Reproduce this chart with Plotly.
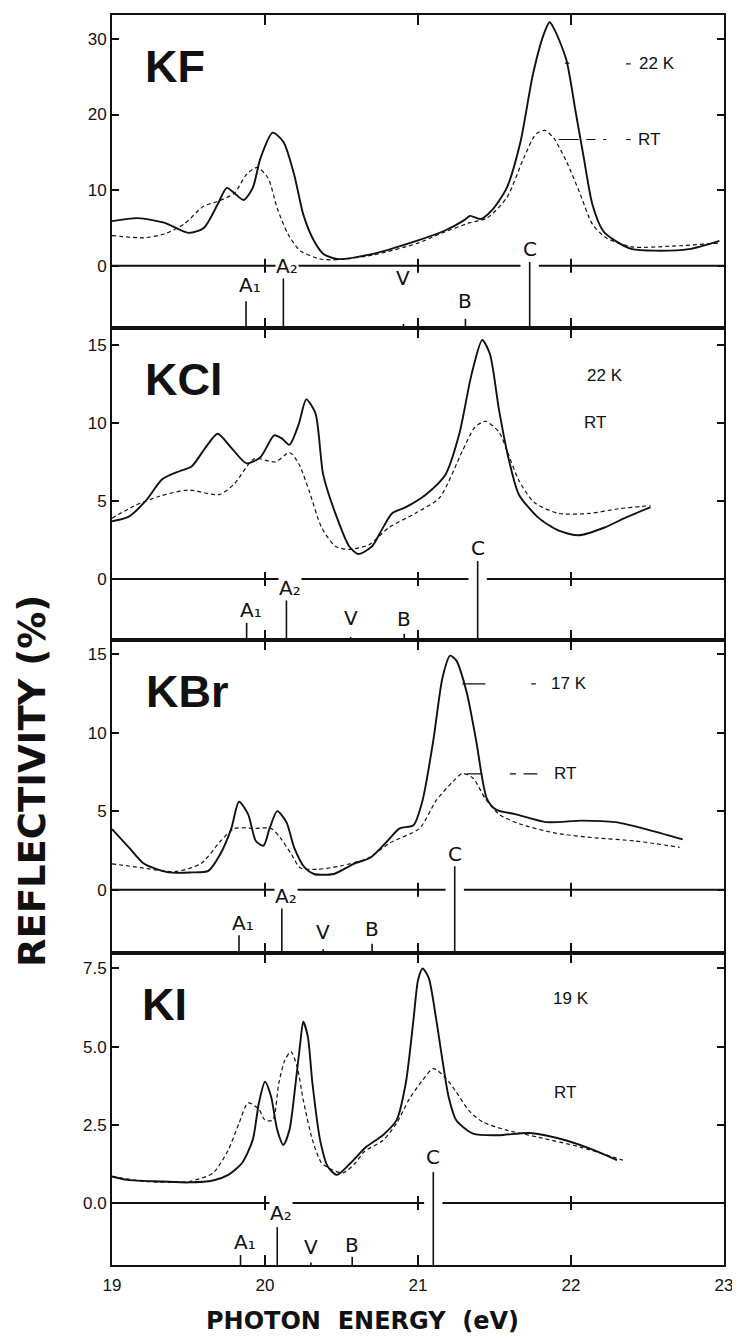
import plotly.graph_objects as go
from plotly.subplots import make_subplots

# ---------------- data ----------------
panel_names = ["KF", "KCl", "KBr", "KI"]
cold_labels = ["22 K", "22 K", "17 K", "19 K"]
rt_label = "RT"

energy_range = [19, 23]
x_tick_vals = [19, 20, 21, 22, 23]
x_tick_text = ["19", "20", "21", "22", "23"]

y_ranges = [[-8.16, 33.16], [-3.9, 16.1], [-4.0, 15.9], [-1.98, 8.01]]
y_tick_vals = [[0, 10, 20, 30], [0, 5, 10, 15], [0, 5, 10, 15], [0, 2.5, 5.0, 7.5]]
y_tick_text = [["0", "10", "20", "30"], ["0", "5", "10", "15"], ["0", "5", "10", "15"],
               ["0.0", "2.5", "5.0", "7.5"]]

# KF
kf_cold_e = [19.0, 19.17, 19.34, 19.50, 19.60, 19.69, 19.75, 19.80, 19.86, 19.92, 19.97, 20.05, 20.12,
             20.19, 20.25, 20.32, 20.38, 20.47, 20.69, 20.99, 21.17, 21.30, 21.34, 21.41, 21.49, 21.58,
             21.67, 21.75, 21.82, 21.86, 21.90, 21.97, 22.03, 22.08, 22.14, 22.21, 22.29, 22.40, 22.55,
             22.77, 22.97]
kf_cold_r = [5.9, 6.3, 5.7, 4.35, 5.0, 8.1, 10.3, 9.6, 8.7, 10.3, 14.2, 17.6, 16.4,
             12.1, 6.8, 3.3, 1.6, 0.9, 1.5, 3.3, 4.6, 6.0, 6.6, 6.2, 7.5, 10.3,
             16.4, 25.2, 30.5, 32.2, 30.9, 27.2, 20.4, 14.7, 8.1, 4.6, 3.3, 2.2, 2.0,
             2.2, 3.3]
kf_rt_e = [19.0, 19.21, 19.34, 19.47, 19.60, 19.69, 19.80, 19.88, 19.95, 20.02, 20.08, 20.15, 20.23,
           20.36, 20.47, 20.70, 21.0, 21.14, 21.34, 21.45, 21.58, 21.69, 21.77, 21.83, 21.89, 21.97,
           22.06, 22.14, 22.23, 22.40, 22.66, 22.97]
kf_rt_r = [4.0, 3.7, 4.2, 5.5, 7.9, 8.5, 9.6, 12.1, 13.0, 11.6, 7.6, 4.2, 2.0,
           0.9, 0.8, 1.4, 3.0, 4.2, 5.7, 6.3, 9.0, 14.2, 17.4, 17.9, 16.8, 13.8,
           9.5, 5.5, 3.7, 2.5, 2.6, 3.0]

# KCl
kcl_cold_e = [19.0, 19.11, 19.22, 19.33, 19.44, 19.52, 19.61, 19.69, 19.78, 19.88, 19.97, 20.06, 20.11,
              20.16, 20.22, 20.27, 20.33, 20.38, 20.46, 20.55, 20.61, 20.70, 20.76, 20.83, 20.92, 21.05,
              21.18, 21.27, 21.35, 21.42, 21.47, 21.53, 21.59, 21.66, 21.79, 21.92, 22.05, 22.22, 22.35,
              22.52]
kcl_cold_r = [3.7, 4.0, 5.0, 6.4, 6.9, 7.2, 8.4, 9.3, 8.4, 7.4, 7.8, 9.2, 9.0,
              8.6, 9.9, 11.5, 10.6, 6.7, 4.2, 2.1, 1.6, 2.1, 3.1, 4.2, 4.6, 5.4,
              6.7, 9.3, 13.1, 15.3, 14.4, 10.8, 7.8, 5.4, 3.9, 3.1, 2.8, 3.3, 3.9,
              4.6]
kcl_rt_e = [19.0, 19.15, 19.31, 19.50, 19.70, 19.80, 19.93, 20.07, 20.16, 20.22, 20.29, 20.37, 20.46,
            20.55, 20.68, 20.81, 20.98, 21.14, 21.29, 21.37, 21.44, 21.53, 21.59, 21.66, 21.76, 21.92,
            22.12, 22.31, 22.52]
kcl_rt_r = [3.9, 4.7, 5.3, 5.7, 5.4, 6.1, 7.7, 7.5, 8.1, 7.4, 5.6, 3.3, 2.1,
            1.9, 2.2, 3.3, 4.2, 5.2, 8.2, 9.7, 10.1, 9.4, 8.0, 6.3, 4.9, 4.2,
            4.2, 4.5, 4.7]

# KBr
kbr_cold_e = [19.0, 19.11, 19.21, 19.37, 19.52, 19.63, 19.71, 19.78, 19.83, 19.89, 19.94, 19.99, 20.03,
              20.08, 20.14, 20.19, 20.26, 20.32, 20.45, 20.58, 20.69, 20.80, 20.88, 20.97, 21.03, 21.10,
              21.16, 21.21, 21.25, 21.32, 21.38, 21.45, 21.51, 21.64, 21.84, 22.07, 22.29, 22.53, 22.73]
kbr_cold_r = [3.85, 2.7, 1.65, 1.1, 1.1, 1.2, 2.3, 3.9, 5.6, 4.8, 3.1, 2.8, 3.9,
              5.0, 4.3, 2.7, 1.4, 1.0, 1.0, 1.65, 2.05, 3.1, 3.9, 4.1, 5.7, 9.5,
              13.5, 14.9, 14.6, 12.5, 9.5, 5.8, 5.1, 4.8, 4.3, 4.4, 4.3, 3.75, 3.2]
kbr_rt_e = [19.0, 19.19, 19.41, 19.58, 19.71, 19.80, 19.93, 20.04, 20.10, 20.17, 20.23, 20.34, 20.49,
            20.67, 20.82, 21.01, 21.12, 21.23, 21.29, 21.36, 21.44, 21.53, 21.66, 21.90, 22.16, 22.42,
            22.71]
kbr_rt_r = [1.65, 1.4, 1.15, 1.65, 3.1, 3.9, 3.9, 3.9, 3.3, 2.3, 1.4, 1.3, 1.5,
            2.0, 3.0, 3.9, 5.7, 6.9, 7.4, 7.1, 5.8, 4.8, 4.2, 3.6, 3.3, 3.1,
            2.7]

# KI
ki_cold_e = [19.0, 19.1, 19.33, 19.5, 19.66, 19.76, 19.85, 19.92, 19.96, 20.0, 20.04, 20.08, 20.12,
             20.16, 20.20, 20.23, 20.25, 20.28, 20.31, 20.36, 20.41, 20.47, 20.56, 20.66, 20.77, 20.86,
             20.92, 20.97, 21.0, 21.03, 21.07, 21.12, 21.16, 21.20, 21.25, 21.36, 21.53, 21.73, 21.97,
             22.15, 22.30]
ki_cold_r = [0.85, 0.74, 0.69, 0.66, 0.72, 0.90, 1.28, 2.02, 3.2, 3.88, 3.4, 2.34, 1.86,
             2.34, 3.83, 5.1, 5.8, 5.32, 3.83, 2.02, 1.17, 0.90, 1.28, 1.79, 2.17, 2.65,
             3.83, 5.84, 7.12, 7.5, 7.2, 5.84, 4.56, 3.4, 2.65, 2.22, 2.17, 2.24, 2.0,
             1.69, 1.37]
ki_rt_e = [19.0, 19.22, 19.5, 19.66, 19.76, 19.83, 19.89, 19.96, 20.0, 20.05, 20.09, 20.13, 20.17,
           20.21, 20.25, 20.31, 20.37, 20.44, 20.51, 20.59, 20.65, 20.77, 20.86, 20.94, 21.03, 21.10,
           21.18, 21.25, 21.33, 21.42, 21.58, 21.79, 22.06, 22.34]
ki_rt_r = [0.85, 0.69, 0.69, 0.96, 1.7, 2.55, 3.2, 3.0, 2.65, 2.65, 3.83, 4.57, 4.84,
           4.36, 3.3, 2.02, 1.28, 1.06, 0.96, 1.28, 1.65, 2.0, 2.55, 3.3, 3.93, 4.3,
           4.0, 3.55, 2.97, 2.6, 2.33, 2.1, 1.79, 1.37]

cold_e = [kf_cold_e, kcl_cold_e, kbr_cold_e, ki_cold_e]
cold_r = [kf_cold_r, kcl_cold_r, kbr_cold_r, ki_cold_r]
rt_e = [kf_rt_e, kcl_rt_e, kbr_rt_e, ki_rt_e]
rt_r = [kf_rt_r, kcl_rt_r, kbr_rt_r, ki_rt_r]

# transition markers: A1, A2, V, B, C
marker_names = ["A\u2081", "A\u2082", "V", "B", "C"]
marker_e = [[19.876, 20.12, 20.905, 21.31, 21.73],
            [19.88, 20.14, 20.56, 20.91, 21.39],
            [19.83, 20.11, 20.38, 20.70, 21.24],
            [19.84, 20.08, 20.30, 20.57, 21.10]]
marker_top = [[-4.7, -1.3, -7.7, -7.0, 0.5],
              [-2.8, -0.9, -3.7, -3.5, 1.15],
              [-2.9, -1.15, -3.8, -3.45, 1.5],
              [-1.66, -0.77, -1.9, -1.72, 0.99]]
marker_label_y = [[-2.6, 0.0, -1.55, -4.6, 2.2],
                  [-1.95, -0.58, -2.5, -2.56, 2.0],
                  [-2.1, -0.38, -2.7, -2.5, 2.3],
                  [-1.24, -0.32, -1.4, -1.34, 1.47]]
zero_gap = 0.06

# label positions (energy, reflectivity)
name_pos = [(19.2, 26.4), (19.2, 12.8), (19.21, 12.65), (19.18, 6.35)]
cold_label_pos = [(22.56, 26.7), (22.22, 13.0), (21.99, 13.1), (22.0, 6.54)]
rt_label_pos = [(22.51, 16.7), (22.16, 10.0), (21.96, 7.37), (21.96, 3.54)]
leaders = [
    [(21.96, 21.99, 26.8), (22.36, 22.39, 26.7), (21.92, 22.05, 16.7), (22.10, 22.16, 16.7),
     (22.21, 22.23, 16.7), (22.36, 22.39, 16.7)],
    [],
    [(21.29, 21.44, 13.1), (21.74, 21.77, 13.1), (21.32, 21.42, 7.37), (21.60, 21.64, 7.37),
     (21.69, 21.78, 7.37)],
    [],
]

# ---------------- figure ----------------
INK = "#111111"
SANS = "Liberation Sans, Arial, sans-serif"

fig = make_subplots(rows=4, cols=1, vertical_spacing=0)

annotations = []
for i in range(4):
    row = i + 1
    xr = "x" if i == 0 else f"x{row}"
    yr = "y" if i == 0 else f"y{row}"
    ybot = y_ranges[i][0]

    fig.add_trace(go.Scatter(x=cold_e[i], y=cold_r[i], mode="lines",
                             line=dict(color=INK, width=1.9, shape="spline", smoothing=0.7),
                             showlegend=False, hoverinfo="skip"), row=row, col=1)
    fig.add_trace(go.Scatter(x=rt_e[i], y=rt_r[i], mode="lines",
                             line=dict(color=INK, width=1.2, dash="4px,3px", shape="spline", smoothing=0.7),
                             showlegend=False, hoverinfo="skip"), row=row, col=1)

    # zero line with a gap around C
    c_e = marker_e[i][4]
    fig.add_trace(go.Scatter(x=[energy_range[0], c_e - zero_gap, None, c_e + zero_gap, energy_range[1]],
                             y=[0, 0, None, 0, 0], mode="lines",
                             line=dict(color=INK, width=2), showlegend=False, hoverinfo="skip"),
                  row=row, col=1)
    fig.add_trace(go.Scatter(x=[20, 21, 22], y=[0, 0, 0], mode="markers",
                             marker=dict(symbol="line-ns", size=10, line=dict(color=INK, width=2)),
                             showlegend=False, hoverinfo="skip"), row=row, col=1)

    # transition marker lines
    mx, my = [], []
    for e, top in zip(marker_e[i], marker_top[i]):
        mx += [e, e, None]
        my += [ybot, top, None]
    fig.add_trace(go.Scatter(x=mx, y=my, mode="lines", line=dict(color=INK, width=1.6),
                             showlegend=False, hoverinfo="skip"), row=row, col=1)

    # leader lines
    lx, ly = [], []
    for x0, x1, yv in leaders[i]:
        lx += [x0, x1, None]
        ly += [yv, yv, None]
    if lx:
        fig.add_trace(go.Scatter(x=lx, y=ly, mode="lines", line=dict(color=INK, width=1.2),
                                 showlegend=False, hoverinfo="skip"), row=row, col=1)

    # texts
    annotations.append(dict(x=name_pos[i][0], y=name_pos[i][1], xref=xr, yref=yr,
                            text=panel_names[i], showarrow=False, xanchor="left", yanchor="middle",
                            font=dict(family=SANS, size=45, color=INK, weight="bold")))
    annotations.append(dict(x=cold_label_pos[i][0], y=cold_label_pos[i][1], xref=xr, yref=yr,
                            text=cold_labels[i], showarrow=False,
                            font=dict(family=SANS, size=17, color=INK)))
    annotations.append(dict(x=rt_label_pos[i][0], y=rt_label_pos[i][1], xref=xr, yref=yr,
                            text=rt_label, showarrow=False,
                            font=dict(family=SANS, size=17, color=INK)))
    for k, name in enumerate(marker_names):
        ann = dict(x=marker_e[i][k], y=marker_label_y[i][k], xref=xr, yref=yr, text=name,
                   showarrow=False, xanchor="center", yanchor="middle",
                   font=dict(family="DejaVu Sans, Liberation Sans, Arial", size=20, color=INK))
        if k in (0, 1):
            ann["xshift"] = 4
        if k == 1:
            ann["bgcolor"] = "white"
            ann["borderpad"] = 0
        annotations.append(ann)

# axis titles
annotations.append(dict(x=0.41, y=-0.045, xref="paper", yref="paper", text="PHOTON  ENERGY  (eV)",
                        showarrow=False, xanchor="center", yanchor="middle",
                        font=dict(family="DejaVu Sans, Arial", size=24, color=INK, weight="bold")))
annotations.append(dict(x=-0.131, y=0.387, xref="paper", yref="paper", text="REFLECTIVITY (%)",
                        showarrow=False, xanchor="center", yanchor="middle", textangle=-90,
                        font=dict(family="DejaVu Sans, Arial", size=37, color=INK, weight="bold")))

fig.update_xaxes(range=energy_range, showline=True, linewidth=2, linecolor=INK, mirror="ticks",
                 ticks="inside", ticklen=10, tickwidth=2, tickcolor=INK,
                 tickvals=[20, 21, 22], showticklabels=False, showgrid=False, zeroline=False)
fig.update_xaxes(tickvals=x_tick_vals, ticktext=x_tick_text, showticklabels=True,
                 ticklabelstandoff=4,
                 tickfont=dict(family=SANS, size=17, color=INK), row=4, col=1)

for i in range(4):
    fig.update_yaxes(range=y_ranges[i], tickvals=y_tick_vals[i], ticktext=y_tick_text[i],
                     showline=True, linewidth=2, linecolor=INK, mirror="ticks",
                     ticks="inside", ticklen=7, tickwidth=2, tickcolor=INK,
                     showgrid=False, zeroline=False,
                     tickfont=dict(family=SANS, size=17, color=INK), row=i + 1, col=1)

# the page body adds an 8 px offset, so the figure is 8 px smaller on each side
fig.update_layout(width=732, height=1330, margin=dict(l=104, r=16, t=5, b=73),
                  paper_bgcolor="white", plot_bgcolor="white", showlegend=False,
                  annotations=annotations)

fig.write_html("out.html")
